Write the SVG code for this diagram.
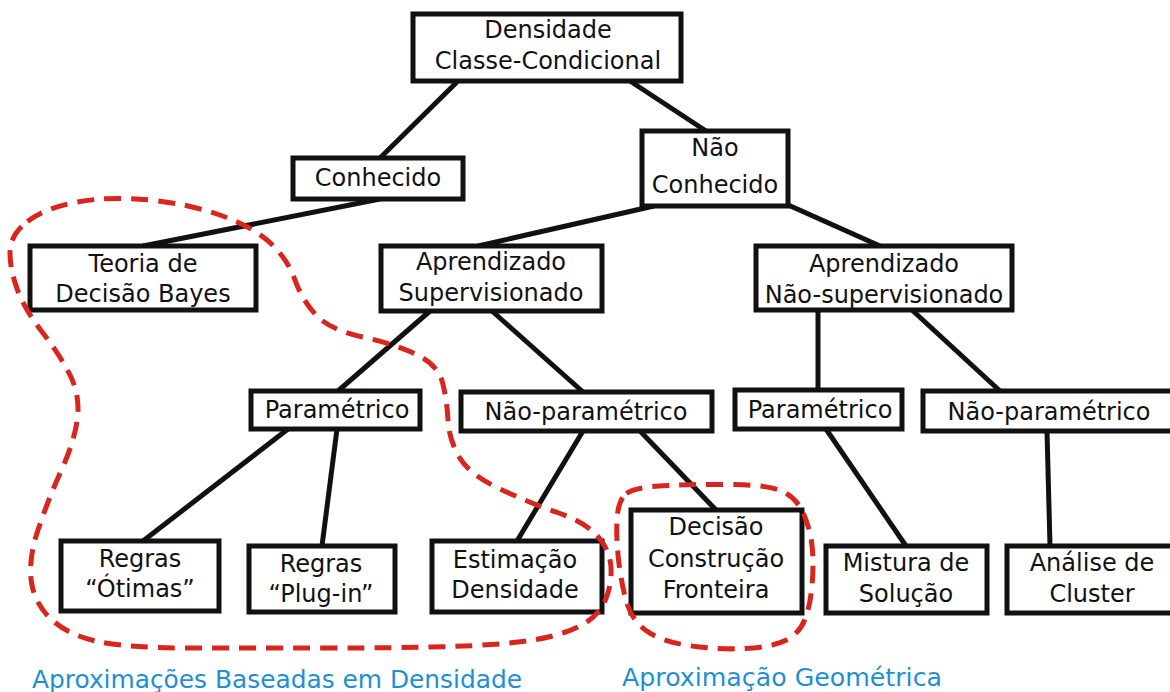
<svg xmlns="http://www.w3.org/2000/svg" width="1170" height="692" viewBox="0 0 1170 692">
<style>
.box{fill:#fff;stroke:#111;stroke-width:5}
.t{font-family:"DejaVu Sans","Liberation Sans",sans-serif;font-size:24px;fill:#111;text-anchor:middle}
.c{stroke:#111;stroke-width:5;fill:none}
.grp{fill:none;stroke:#d8261f;stroke-width:5;stroke-dasharray:17 10}
.lbl{font-family:"DejaVu Sans","Liberation Sans",sans-serif;font-size:24px;fill:#1f8fd2}
</style>
<rect width="1170" height="692" fill="#fff"/>
<g id="connectors">
<line class="c" x1="457" y1="82" x2="380" y2="158"/>
<line class="c" x1="630" y1="81" x2="706" y2="131"/>
<line class="c" x1="380" y1="199" x2="143" y2="246"/>
<line class="c" x1="654" y1="206" x2="478" y2="246"/>
<line class="c" x1="786" y1="204" x2="880" y2="246"/>
<line class="c" x1="430" y1="311" x2="338" y2="391"/>
<line class="c" x1="492" y1="311" x2="583" y2="392"/>
<line class="c" x1="818" y1="310" x2="818" y2="390"/>
<line class="c" x1="912" y1="310" x2="1000" y2="391"/>
<line class="c" x1="288" y1="429" x2="143" y2="541"/>
<line class="c" x1="337" y1="429" x2="322" y2="546"/>
<line class="c" x1="583" y1="431" x2="517" y2="541"/>
<line class="c" x1="640" y1="431" x2="716" y2="510"/>
<line class="c" x1="826" y1="429" x2="906" y2="546"/>
<line class="c" x1="1047" y1="431" x2="1050" y2="546"/>
</g>
<g id="n1"><rect class="box" x="413" y="14" width="268" height="67"/><text class="t" x="548" y="38">Densidade</text><text class="t" x="548" y="69">Classe-Condicional</text></g>
<g id="n2"><rect class="box" x="293" y="158" width="170" height="41"/><text class="t" x="378" y="186">Conhecido</text></g>
<g id="n3"><rect class="box" x="642" y="131" width="146" height="75"/><text class="t" x="715" y="156">Não</text><text class="t" x="715" y="193">Conhecido</text></g>
<g id="n4"><rect class="box" x="30" y="246" width="226" height="64"/><text class="t" x="143" y="272">Teoria de</text><text class="t" x="143" y="302">Decisão Bayes</text></g>
<g id="n5"><rect class="box" x="381" y="246" width="221" height="65"/><text class="t" x="491" y="270">Aprendizado</text><text class="t" x="491" y="301">Supervisionado</text></g>
<g id="n6"><rect class="box" x="756" y="246" width="256" height="64"/><text class="t" x="884" y="272">Aprendizado</text><text class="t" x="884" y="303">Não-supervisionado</text></g>
<g id="n7"><rect class="box" x="251" y="391" width="169" height="38"/><text class="t" x="337" y="418">Paramétrico</text></g>
<g id="n8"><rect class="box" x="461" y="392" width="251" height="39"/><text class="t" x="586" y="420">Não-paramétrico</text></g>
<g id="n9"><rect class="box" x="735" y="390" width="167" height="39"/><text class="t" x="820" y="418">Paramétrico</text></g>
<g id="n10"><rect class="box" x="923" y="391" width="260" height="40"/><text class="t" x="1049" y="420">Não-paramétrico</text></g>
<g id="n11"><rect class="box" x="61" y="541" width="158" height="70"/><text class="t" x="140" y="567">Regras</text><text class="t" x="140" y="597">“Ótimas”</text></g>
<g id="n12"><rect class="box" x="249" y="546" width="146" height="66"/><text class="t" x="321" y="572">Regras</text><text class="t" x="321" y="602">“Plug-in”</text></g>
<g id="n13"><rect class="box" x="432" y="541" width="170" height="71"/><text class="t" x="515" y="568">Estimação</text><text class="t" x="515" y="598">Densidade</text></g>
<g id="n14"><rect class="box" x="631" y="510" width="171" height="103"/><text class="t" x="716" y="535">Decisão</text><text class="t" x="716" y="567">Construção</text><text class="t" x="716" y="598">Fronteira</text></g>
<g id="n15"><rect class="box" x="826" y="546" width="161" height="67"/><text class="t" x="906" y="571">Mistura de</text><text class="t" x="906" y="602">Solução</text></g>
<g id="n16"><rect class="box" x="1007" y="546" width="170" height="67"/><text class="t" x="1092" y="571">Análise de</text><text class="t" x="1092" y="602">Cluster</text></g>
<g id="groups">
<path class="grp" d="M 27.5,221.5 Q 45,208 77.5,202 Q 110,196 150,200 Q 190,204 222.5,216 Q 255,228 271.5,244 Q 288,260 295,280 Q 302,300 316,315 Q 330,330 362.5,337 Q 395,344 416.5,354.5 Q 438,365 442.5,382.5 Q 447,400 448,420 Q 449,440 459.5,457.5 Q 470,475 500,489 Q 530,503 557.5,512.5 Q 585,522 597.5,536 Q 610,550 611,567.5 Q 612,585 605,601 Q 598,617 579,626.5 Q 560,636 530,640.5 Q 500,645 450,646.5 Q 400,648 325,648 Q 250,648 190,648 Q 130,648 100,642 Q 70,636 52.5,620.5 Q 35,605 31.5,582.5 Q 28,560 38,530 Q 48,500 61.5,470 Q 75,440 77.5,417.5 Q 80,395 70,375 Q 60,355 42.5,332.5 Q 25,310 17.5,290 Q 10,270 10,252.5 Q 10,235 27.5,221.5 Z"/>
<path class="grp" d="M 626.5,493.5 Q 635,487 667.5,485.5 Q 700,484 734,484.5 Q 768,485 781.5,491 Q 795,497 801.5,509.5 Q 808,522 811,538.5 Q 814,555 812.5,579 Q 811,603 805.5,618 Q 800,633 786.5,640 Q 773,647 745,648.5 Q 717,650 688.5,645.5 Q 660,641 646,630.5 Q 632,620 627,603.5 Q 622,587 619,563.5 Q 616,540 617,520 Q 618,500 626.5,493.5 Z"/>
</g>
<text class="lbl" x="32" y="688" textLength="490" lengthAdjust="spacingAndGlyphs">Aproximações Baseadas em Densidade</text>
<text class="lbl" x="622" y="686" textLength="320" lengthAdjust="spacingAndGlyphs">Aproximação Geométrica</text>
</svg>
